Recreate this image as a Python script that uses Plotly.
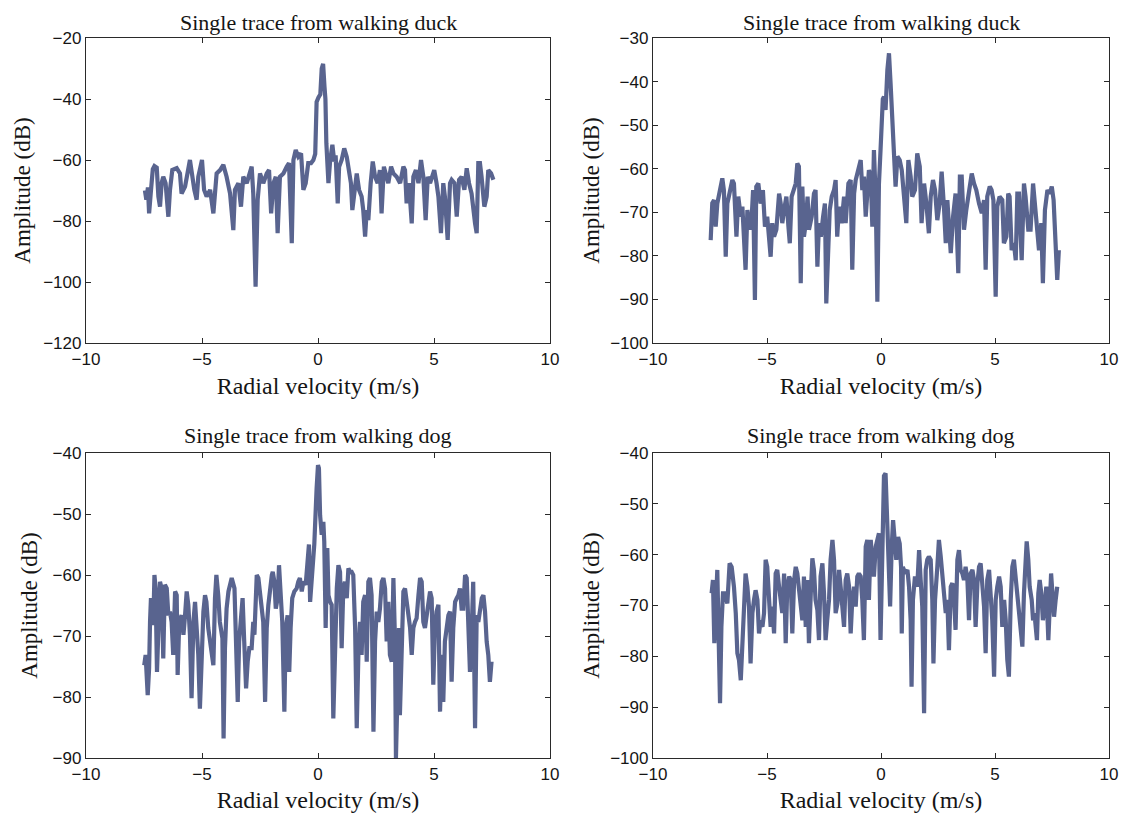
import plotly.graph_objects as go

# ---------------- data ----------------
# Panel A: single trace from walking duck (top-left)
vel_duck_a = [
    -7.46, -7.40, -7.33, -7.28, -7.20, -7.12, -7.05, -6.95, -6.88, -6.81,
    -6.74, -6.67, -6.57, -6.45, -6.38, -6.28, -6.09, -5.95, -5.88, -5.73,
    -5.52, -5.42, -5.33, -5.23, -5.16, -5.00, -4.91, -4.80, -4.65, -4.51,
    -4.37, -4.22, -4.08, -3.94, -3.79, -3.65, -3.58, -3.43, -3.32, -3.22,
    -3.07, -2.86, -2.79, -2.69, -2.60, -2.50, -2.36, -2.21, -2.11, -2.02,
    -1.92, -1.82, -1.74, -1.64, -1.49, -1.35, -1.25, -1.13, -1.06, -0.96,
    -0.85, -0.73, -0.63, -0.53, -0.42, -0.30, -0.20, -0.12, -0.06, 0.02,
    0.10, 0.16, 0.22, 0.28, 0.32, 0.36, 0.45, 0.52, 0.62, 0.70,
    0.76, 0.85, 0.91, 1.02, 1.13, 1.24, 1.34, 1.42, 1.48, 1.57,
    1.67, 1.77, 1.88, 1.95, 2.03, 2.10, 2.17, 2.27, 2.36, 2.46,
    2.57, 2.67, 2.74, 2.84, 2.93, 3.03, 3.15, 3.25, 3.39, 3.54,
    3.68, 3.75, 3.82, 3.92, 4.04, 4.11, 4.22, 4.33, 4.44, 4.54,
    4.64, 4.73, 4.83, 4.90, 5.01, 5.11, 5.19, 5.30, 5.40, 5.47,
    5.59, 5.69, 5.76, 5.88, 5.98, 6.08, 6.19, 6.31, 6.41, 6.51,
    6.62, 6.77, 6.84, 6.91, 6.98, 7.05, 7.17, 7.27, 7.34, 7.46,
    7.56,
]
amp_duck_a = [
    -70, -73, -69, -77.5, -70, -63, -62, -62.5, -72, -75.3,
    -67.6, -65.5, -67.6, -78.6, -69.8, -63.3, -62.7, -64.4, -71, -68.7,
    -60, -66.5, -69.8, -73, -65.5, -60, -69.8, -72, -69.8, -77.5,
    -64.4, -63.3, -61.6, -65.5, -71, -83, -69.8, -67.6, -75.3, -65.5,
    -67.6, -62.2, -71, -101.5, -73, -64.4, -67.6, -64.4, -63.3, -77.5,
    -67.6, -65.5, -84, -65.5, -64.4, -62.2, -61, -87.3, -60, -56.7,
    -58.9, -57.8, -69.8, -67.6, -61, -61, -60, -58, -41, -39.5,
    -38.5, -30, -28.5, -36, -40, -54.5, -67.6, -60.5, -55, -60.5,
    -58.5, -74.2, -62.2, -60, -56.2, -59, -64.4, -67.6, -76.4, -69.8,
    -64.4, -69.8, -72, -76.4, -85.1, -76.4, -79.7, -67.6, -60.5, -65.5,
    -67.6, -63.3, -77.5, -62.2, -65.5, -67.6, -62.2, -64.4, -65.5, -67.6,
    -62.2, -63.3, -74.2, -67.6, -80.8, -65.5, -63.3, -67.6, -60, -65.5,
    -79.7, -65.5, -67.6, -65.5, -63.3, -67.6, -72, -84, -67.6, -72,
    -86.2, -67.6, -66.5, -67.6, -78.6, -66.5, -65.5, -69.8, -62.7, -67.6,
    -71, -80.8, -84, -61, -61, -65.5, -75.3, -72, -63.3, -64.4,
    -66.5,
]

# Panel B: single trace from walking duck (top-right)
vel_duck_b = [
    -7.47, -7.40, -7.32, -7.25, -7.18, -7.08, -6.96, -6.89, -6.81, -6.74,
    -6.64, -6.52, -6.45, -6.34, -6.26, -6.15, -6.08, -6.01, -5.94, -5.86,
    -5.76, -5.67, -5.61, -5.53, -5.47, -5.38, -5.28, -5.18, -5.09, -4.99,
    -4.91, -4.84, -4.77, -4.69, -4.59, -4.47, -4.40, -4.33, -4.25, -4.15,
    -4.06, -4.00, -3.92, -3.82, -3.74, -3.67, -3.60, -3.52, -3.45, -3.38,
    -3.30, -3.22, -3.16, -3.04, -2.94, -2.87, -2.79, -2.72, -2.64, -2.54,
    -2.46, -2.40, -2.32, -2.25, -2.16, -2.06, -1.99, -1.92, -1.84, -1.73,
    -1.62, -1.55, -1.43, -1.33, -1.26, -1.18, -1.11, -1.00, -0.89, -0.82,
    -0.75, -0.67, -0.60, -0.53, -0.45, -0.38, -0.31, -0.23, -0.16, -0.09,
    -0.02, 0.03, 0.08, 0.13, 0.20, 0.28, 0.35, 0.42, 0.50, 0.57,
    0.64, 0.72, 0.82, 0.91, 1.01, 1.11, 1.20, 1.30, 1.37, 1.49,
    1.59, 1.70, 1.78, 1.89, 1.99, 2.10, 2.18, 2.28, 2.37, 2.47,
    2.57, 2.66, 2.76, 2.84, 2.91, 2.98, 3.06, 3.16, 3.27, 3.39,
    3.46, 3.54, 3.64, 3.74, 3.86, 3.98, 4.08, 4.18, 4.30, 4.42,
    4.52, 4.59, 4.66, 4.77, 4.85, 4.93, 5.03, 5.10, 5.20, 5.32,
    5.39, 5.50, 5.58, 5.64, 5.73, 5.83, 5.91, 5.98, 6.05, 6.17,
    6.27, 6.34, 6.46, 6.56, 6.67, 6.75, 6.86, 6.93, 7.03, 7.10,
    7.19, 7.30, 7.40, 7.49, 7.57, 7.66, 7.73, 7.80,
]
amp_duck_b = [
    -76.4, -67.9, -67.2, -73.3, -68, -65.7, -62.2, -65, -80.2, -68,
    -65, -62.6, -63.4, -75.6, -66.4, -71, -68.7, -75.6, -83.2, -69.5,
    -74, -71, -64.9, -90.1, -64.1, -63.4, -68, -64.9, -73.3, -71,
    -76.4, -80.2, -72.5, -75.6, -74, -65.7, -68, -72.5, -69.5, -66.4,
    -73.3, -77.1, -66.4, -64.9, -63.4, -58.8, -59.5, -86.3, -64.1, -75.6,
    -72.5, -66.4, -74, -71, -65.7, -64.9, -82.5, -72.5, -75.6, -71,
    -68, -90.9, -75.6, -69.5, -66.4, -64.9, -62.6, -75.6, -68.7, -72.5,
    -66.4, -72.5, -63.4, -62.6, -83.2, -65.7, -62.6, -60.3, -58, -64.9,
    -61.8, -71, -66.4, -60.3, -61.8, -73.3, -55.7, -67.2, -90.5, -63.4,
    -55.7, -45, -44, -43.5, -46.5, -37.3, -33.5, -40.4, -48, -57.2,
    -64.1, -57.2, -58, -60.3, -67.2, -72.5, -58, -61.8, -66.4, -64.9,
    -56.5, -59.5, -72.5, -63.4, -68, -74.8, -66.4, -62.6, -64.9, -71.8,
    -68, -60.7, -68.7, -77.1, -67.2, -72.5, -79.4, -71, -65.7, -84,
    -61.8, -61.8, -74, -69.5, -64.9, -61.1, -63.4, -64.9, -68, -70.2,
    -67.2, -83.2, -66.4, -64.1, -64.9, -67.2, -89.4, -68.7, -66.4, -67.2,
    -77.1, -75.6, -65.7, -66.4, -78.7, -77.1, -81, -65.7, -65.7, -81,
    -63.4, -66.4, -74, -74, -63.4, -68, -72.5, -78.7, -72.5, -86.3,
    -69.5, -64.9, -65.7, -64.1, -67.2, -78.7, -85.5, -78.7,
]

# Panel C: single trace from walking dog (bottom-left)
vel_dog_a = [
    -7.49, -7.43, -7.34, -7.28, -7.24, -7.20, -7.14, -7.10, -7.05, -7.00,
    -6.94, -6.88, -6.81, -6.74, -6.67, -6.60, -6.52, -6.45, -6.38, -6.31,
    -6.24, -6.16, -6.09, -6.05, -5.98, -5.88, -5.80, -5.73, -5.66, -5.59,
    -5.52, -5.45, -5.37, -5.30, -5.23, -5.16, -5.09, -5.02, -4.94, -4.87,
    -4.81, -4.73, -4.66, -4.58, -4.51, -4.44, -4.38, -4.30, -4.23, -4.12,
    -4.07, -4.01, -3.94, -3.86, -3.72, -3.60, -3.53, -3.46, -3.40, -3.32,
    -3.25, -3.18, -3.10, -3.03, -2.96, -2.86, -2.79, -2.74, -2.64, -2.57,
    -2.50, -2.36, -2.28, -2.21, -2.14, -2.07, -1.99, -1.95, -1.88, -1.82,
    -1.74, -1.68, -1.61, -1.54, -1.45, -1.39, -1.31, -1.24, -1.18, -1.11,
    -1.02, -0.92, -0.85, -0.78, -0.70, -0.63, -0.53, -0.44, -0.39, -0.34,
    -0.30, -0.24, -0.16, -0.06, 0.00, 0.04, 0.09, 0.16, 0.23, 0.27,
    0.33, 0.40, 0.45, 0.52, 0.59, 0.66, 0.73, 0.81, 0.88, 0.95,
    1.02, 1.09, 1.16, 1.24, 1.31, 1.38, 1.45, 1.52, 1.60, 1.67,
    1.74, 1.81, 1.88, 1.95, 2.03, 2.10, 2.17, 2.24, 2.31, 2.39,
    2.46, 2.53, 2.60, 2.67, 2.75, 2.82, 2.89, 2.96, 3.03, 3.10,
    3.18, 3.25, 3.32, 3.36, 3.43, 3.49, 3.53, 3.61, 3.68, 3.75,
    3.82, 3.89, 3.97, 4.04, 4.11, 4.18, 4.25, 4.33, 4.40, 4.47,
    4.54, 4.61, 4.68, 4.76, 4.83, 4.90, 4.97, 5.04, 5.11, 5.19,
    5.26, 5.33, 5.40, 5.47, 5.55, 5.62, 5.69, 5.76, 5.83, 5.91,
    5.98, 6.05, 6.12, 6.19, 6.26, 6.34, 6.41, 6.48, 6.55, 6.62,
    6.69, 6.77, 6.84, 6.91, 7.06, 7.13, 7.20, 7.27, 7.34, 7.41,
    7.48,
]
amp_dog_a = [
    -74.8, -73.1, -79.7, -75.3, -67.7, -63.8, -66.6, -68.2, -60, -62.2,
    -75.9, -66.6, -61.1, -62.2, -73.7, -61.6, -62.2, -66.6, -66, -67.7,
    -73.1, -62.7, -63.3, -76.4, -67.7, -66.6, -69.8, -66.6, -62.7, -64.9,
    -69.8, -80.2, -67.7, -64.4, -67.7, -73.1, -81.9, -73.1, -66, -63.3,
    -64.4, -68.7, -70.9, -72.6, -74.8, -63.8, -60, -63.3, -67.7, -70.4,
    -86.8, -72, -65.5, -62.7, -60.5, -62.2, -70.9, -80.8, -70.9, -66,
    -63.8, -70.9, -78.6, -74.2, -72, -72, -67.7, -69.8, -60, -60.5,
    -63.3, -67.7, -80.8, -68.7, -64.9, -62.2, -60, -59.5, -61.1, -65.5,
    -63.8, -58.4, -63.3, -67.7, -82.4, -68.7, -66.6, -75.9, -68.7, -63.8,
    -62.7, -62.2, -61.1, -60.5, -62.7, -61.1, -61.6, -56.7, -55, -64.4,
    -62.2, -57.8, -55, -45.8, -42, -42.5, -50.2, -53.4, -51.3, -54.5,
    -68.7, -55.6, -63.3, -64.4, -64.9, -83.5, -73.1, -62.2, -58.4, -59.5,
    -72, -62.2, -61.1, -63.8, -58.9, -59.5, -59.5, -60, -68.7, -85.1,
    -73.1, -67.7, -73.1, -64.4, -63.3, -74.2, -61.1, -60.5, -63.3, -85.7,
    -70.9, -66, -67.7, -65.5, -61.1, -60.5, -62.2, -70.9, -64.4, -73.1,
    -74.2, -60.5, -70.9, -90, -78.6, -68.7, -83, -73.1, -62.7, -62.2,
    -64.4, -66.6, -68.7, -73.1, -68.7, -67.7, -67.1, -63.3, -60.5, -61.1,
    -67.7, -68.7, -66.6, -64.4, -62.7, -63.8, -78, -68.7, -66, -64.9,
    -82.4, -73.1, -80.8, -70.9, -68.7, -66.6, -66, -77.5, -68.7, -64.4,
    -63.8, -63.3, -62.2, -65.5, -65.5, -60, -60.5, -66.6, -75.9, -69.8,
    -61.1, -85.1, -66.6, -67.7, -63.8, -63.3, -66, -70.9, -73.1, -77.5,
    -74.2,
]

# Panel D: single trace from walking dog (bottom-right)
vel_dog_b = [
    -7.43, -7.37, -7.31, -7.25, -7.18, -7.10, -7.06, -7.00, -6.93, -6.84,
    -6.74, -6.64, -6.55, -6.45, -6.37, -6.30, -6.23, -6.15, -6.08, -6.01,
    -5.94, -5.86, -5.79, -5.72, -5.64, -5.57, -5.50, -5.42, -5.35, -5.28,
    -5.20, -5.13, -5.06, -4.99, -4.91, -4.84, -4.77, -4.69, -4.62, -4.55,
    -4.47, -4.40, -4.33, -4.25, -4.18, -4.11, -4.03, -3.96, -3.89, -3.81,
    -3.74, -3.67, -3.59, -3.52, -3.45, -3.38, -3.30, -3.23, -3.16, -3.08,
    -3.01, -2.94, -2.87, -2.79, -2.72, -2.65, -2.57, -2.50, -2.43, -2.36,
    -2.28, -2.21, -2.13, -2.06, -1.99, -1.91, -1.84, -1.77, -1.69, -1.62,
    -1.55, -1.48, -1.40, -1.33, -1.26, -1.18, -1.11, -1.04, -0.97, -0.89,
    -0.82, -0.75, -0.67, -0.60, -0.53, -0.45, -0.38, -0.31, -0.23, -0.16,
    -0.09, -0.02, 0.05, 0.13, 0.20, 0.28, 0.35, 0.40, 0.47, 0.53,
    0.60, 0.67, 0.75, 0.82, 0.88, 0.91, 0.96, 1.05, 1.16, 1.23,
    1.30, 1.34, 1.40, 1.49, 1.59, 1.67, 1.74, 1.81, 1.89, 1.96,
    2.03, 2.10, 2.18, 2.25, 2.30, 2.37, 2.47, 2.54, 2.62, 2.69,
    2.76, 2.84, 2.91, 2.98, 3.06, 3.13, 3.20, 3.27, 3.35, 3.42,
    3.49, 3.57, 3.64, 3.71, 3.79, 3.86, 3.93, 4.01, 4.08, 4.15,
    4.23, 4.30, 4.37, 4.44, 4.52, 4.59, 4.66, 4.74, 4.81, 4.88,
    4.96, 5.03, 5.10, 5.18, 5.25, 5.32, 5.40, 5.47, 5.54, 5.61,
    5.69, 5.76, 5.83, 5.91, 5.98, 6.05, 6.13, 6.20, 6.27, 6.34,
    6.39, 6.46, 6.52, 6.61, 6.67, 6.73, 6.78, 6.84, 6.90, 6.96,
    7.03, 7.10, 7.18, 7.25, 7.34, 7.40, 7.46, 7.52, 7.59, 7.66,
    7.73,
]
amp_dog_b = [
    -67.6, -65, -77.4, -68.9, -63, -80.7, -89.2, -74.2, -67.6, -67.6,
    -69.6, -61.7, -62.4, -66.3, -71.5, -79.4, -80.7, -84.7, -78.1, -70.9,
    -63.7, -66.3, -70.2, -81.4, -71.5, -68.9, -67, -68.9, -75.5, -72.9,
    -74.2, -71.5, -61, -62.4, -68.9, -74.2, -70.2, -75.5, -63.7, -63,
    -66.3, -68.9, -71.5, -63.7, -77.4, -66.3, -64.3, -65, -75.5, -65,
    -62.4, -63.7, -67.6, -70.9, -72.9, -64.3, -74.2, -65, -77.4, -67.6,
    -60.7, -63, -68.9, -70.9, -76.8, -64.3, -61.7, -67.6, -76.8, -72.9,
    -68.9, -61, -57.1, -61, -71.5, -69.6, -63, -66.3, -70.2, -74.2,
    -65, -63.7, -66.3, -75.5, -68.9, -66.3, -70.2, -64.3, -63.7, -64.3,
    -68.9, -76.8, -58.4, -57.1, -68.9, -57.1, -61, -64.3, -58.4, -56.5,
    -55.8, -76.8, -55, -44.5, -44, -54.5, -61, -70.2, -58.4, -53.2,
    -57.1, -61, -56.5, -57.8, -62.4, -75.5, -62.4, -63.7, -63, -66.3,
    -72.9, -86, -68.9, -64.3, -66.3, -59.1, -65, -70.2, -91.2, -63,
    -61, -60.4, -61, -68.9, -81.4, -68.9, -62.4, -57.1, -60.4, -64.3,
    -67.6, -71.5, -68.9, -78.8, -66.3, -65.6, -68.3, -74.8, -61, -59.1,
    -63, -63.7, -65, -62.4, -65, -72.9, -63.7, -63, -65, -74.2,
    -65.6, -62.4, -61.7, -66.3, -70.2, -79.4, -65, -63, -67.6, -72.9,
    -84, -68.9, -66.3, -64.3, -66.3, -74.2, -68.9, -72.9, -80.7, -84,
    -68.9, -62.4, -61, -65, -68.9, -70.2, -75.5, -78.1, -67.6, -58.4,
    -57.4, -61, -66.3, -68.9, -72.9, -71.5, -74.2, -76.8, -67.6, -65,
    -67.6, -72.9, -70.2, -66.3, -76.8, -66.3, -63.7, -67.6, -72.2, -68.9,
    -66.3,
]

titles = [
    "Single trace from walking duck",
    "Single trace from walking duck",
    "Single trace from walking dog",
    "Single trace from walking dog",
]
y_ranges = [[-120, -20], [-100, -30], [-90, -40], [-100, -40]]
y_dticks = [20, 10, 10, 10]
x_ticks = [-10, -5, 0, 5, 10]
x_label = "Radial velocity (m/s)"
y_label = "Amplitude (dB)"

series = [
    (vel_duck_a, amp_duck_a),
    (vel_duck_b, amp_duck_b),
    (vel_dog_a, amp_dog_a),
    (vel_dog_b, amp_dog_b),
]

# ---------------- layout geometry ----------------
# The page body has an 8px default margin, so the figure is drawn 8px
# in from the window's top-left corner; positions below are window pixels.
OFF = 8
W, H = 1130 - OFF, 813 - OFF
col_px = [(86, 550), (653, 1109)]
row_px = [(38, 343), (453, 758)]
title_center_px = [22, 436]
ytitle_standoff = [6, 4, 8, 4]


def fx(p):
    return (p - OFF) / W


def fy(p):
    return 1 - (p - OFF) / H


LINE_COLOR = "#59648f"
AXIS_COLOR = "#2a2a2a"
TEXT_COLOR = "#151515"
SERIF = "Liberation Serif, Times New Roman, serif"
SANS = "Liberation Sans, Arial, Helvetica, sans-serif"

fig = go.Figure()
layout = dict(
    width=W, height=H,
    margin=dict(l=0, r=0, t=0, b=0),
    paper_bgcolor="white", plot_bgcolor="white",
    showlegend=False,
    annotations=[],
)

for i, (xs, ys) in enumerate(series):
    r, c = divmod(i, 2)
    n = i + 1
    xa = "xaxis" if n == 1 else f"xaxis{n}"
    ya = "yaxis" if n == 1 else f"yaxis{n}"
    xref = "x" if n == 1 else f"x{n}"
    yref = "y" if n == 1 else f"y{n}"
    fig.add_trace(go.Scatter(
        x=xs, y=ys, mode="lines", xaxis=xref, yaxis=yref,
        line=dict(color=LINE_COLOR, width=4.2),
        hoverinfo="x+y",
    ))
    x0, x1 = col_px[c]
    y0, y1 = row_px[r]
    layout[xa] = dict(
        domain=[fx(x0), fx(x1)], anchor=yref, range=[-10, 10],
        tickvals=x_ticks, ticks="inside", ticklen=5, tickcolor=AXIS_COLOR,
        showline=True, mirror="ticks", linecolor=AXIS_COLOR, linewidth=1.3,
        showgrid=False, zeroline=False, automargin=False,
        tickfont=dict(family=SANS, size=17, color=TEXT_COLOR),
        title=dict(text=x_label, font=dict(family=SERIF, size=24, color=TEXT_COLOR),
                   standoff=9),
    )
    layout[ya] = dict(
        domain=[fy(y1), fy(y0)], anchor=xref, range=y_ranges[i],
        dtick=y_dticks[i], tick0=y_ranges[i][0],
        ticks="inside", ticklen=5, tickcolor=AXIS_COLOR,
        showline=True, mirror="ticks", linecolor=AXIS_COLOR, linewidth=1.3,
        showgrid=False, zeroline=False, automargin=False,
        tickfont=dict(family=SANS, size=17, color=TEXT_COLOR),
        title=dict(text=y_label, font=dict(family=SERIF, size=23, color=TEXT_COLOR),
                   standoff=ytitle_standoff[i]),
    )
    layout["annotations"].append(dict(
        text=titles[i], xref="paper", yref="paper",
        x=fx((x0 + x1) / 2), y=fy(title_center_px[r]),
        xanchor="center", yanchor="middle", showarrow=False,
        font=dict(family=SERIF, size=22, color=TEXT_COLOR),
    ))

fig.update_layout(**layout)
fig.write_html("out.html")
